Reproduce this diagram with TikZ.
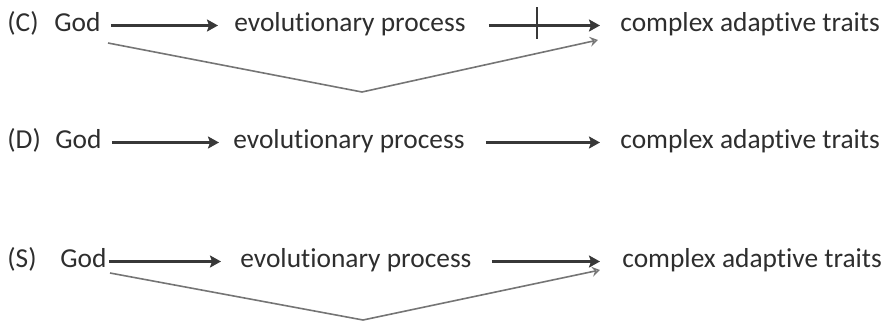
\documentclass[tikz,border=0pt]{standalone}
\usepackage{fontspec}
\setmainfont{Carlito}[Ligatures=CommonOff]
\usetikzlibrary{arrows.meta}
\definecolor{txtgray}{HTML}{2E2E2E}
\definecolor{arrgray}{HTML}{383838}
\definecolor{vgray}{HTML}{757575}
\begin{document}
\begin{tikzpicture}[x=0.5pt,y=-0.5pt,
  word/.style={anchor=base west,inner xsep=0pt,inner ysep=1pt,text height=8pt,text depth=2.5pt,
               text=txtgray,font=\fontsize{13.7}{16}\selectfont},
  arr/.style={draw=arrgray,line width=1.1pt,-{Stealth[length=5.5pt,width=6pt,inset=1pt]}},
  vline/.style={draw=vgray,line width=0.8pt,-{Stealth[length=4pt,width=5pt,inset=1.5pt,open]}}]
\useasboundingbox (0,0) rectangle (885,322);

\node[word] (labC) at (7,31){(C)};
\node[word] (godC) at (54,31){God};
\node[word] (evoC) at (234,31){evolutionary process};
\node[word] (catC) at (620,31){complex adaptive traits};

\node[word] (labD) at (7,148){(D)};
\node[word] (godD) at (55,148){God};
\node[word] (evoD) at (233,148){evolutionary process};
\node[word] (catD) at (620,148){complex adaptive traits};

\node[word] (labS) at (7,267){(S)};
\node[word] (godS) at (60,267){God};
\node[word] (evoS) at (240,267){evolutionary process};
\node[word] (catS) at (622,267){complex adaptive traits};

\draw[arr,shorten <=5pt,shorten >=8pt] (godC.east)--(evoC.west);
\draw[arr,shorten <=11.5pt,shorten >=10pt] (evoC.east)--(catC.west);
\draw[arrgray,line width=1.1pt] (537,7)--(537,39); %cut

\draw[arr,shorten <=5pt,shorten >=7pt] (godD.east)--(evoD.west);
\draw[arr,shorten <=10.5pt,shorten >=10pt] (evoD.east)--(catD.west);

\draw[arr,shorten <=1pt,shorten >=9.5pt] (godS.east)--(evoS.west);
\draw[arr,shorten <=10pt,shorten >=11pt] (evoS.east)--(catS.west);

\coordinate (startC) at (108,43);
\coordinate (botC) at (362,92);
\coordinate (endC) at (598,40);
\draw[vline] (startC)--(botC)--(endC); %direct path

\coordinate (startS) at (110,273);
\coordinate (botS) at (363,320);
\coordinate (endS) at (600,270);
\draw[vline] (startS)--(botS)--(endS); %direct path
\end{tikzpicture}
\end{document}
